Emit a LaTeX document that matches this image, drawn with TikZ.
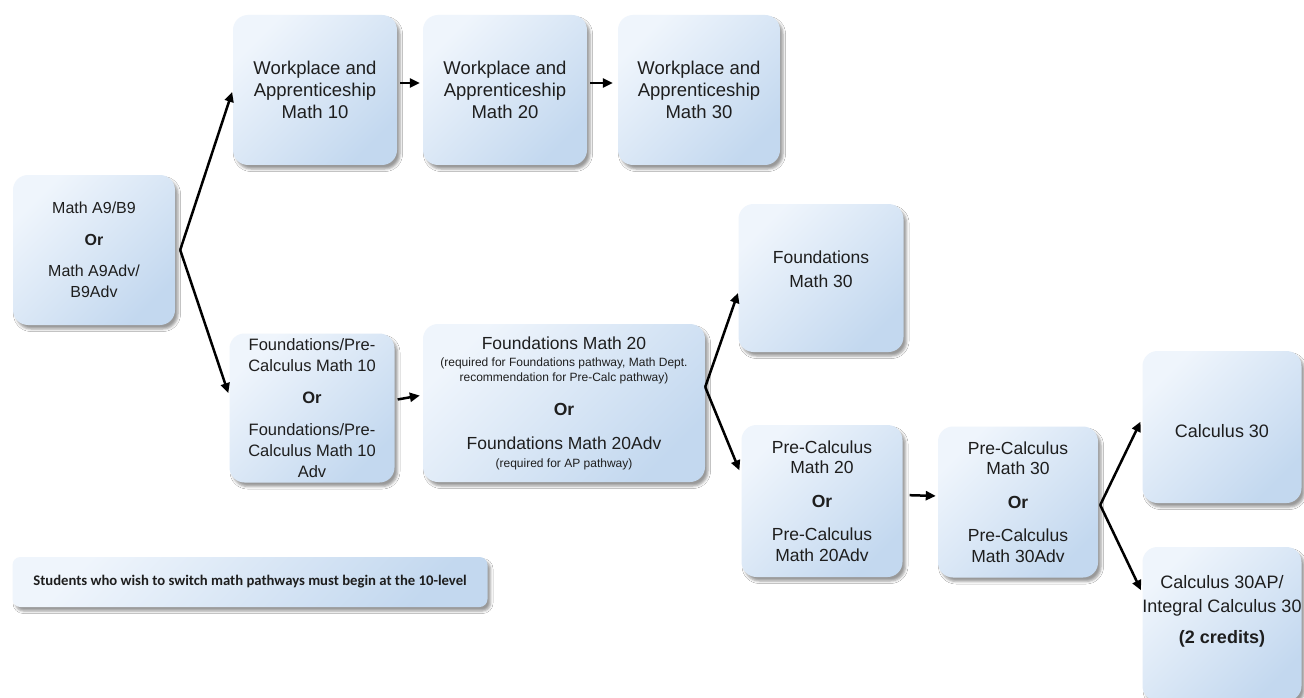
\documentclass[tikz,border=0pt]{standalone}
\usepackage{fontspec}
\setmainfont{Liberation Sans}
\newfontfamily\notefont{Carlito}
\usetikzlibrary{arrows.meta,shadows.blur,calc}
\definecolor{bxlight}{HTML}{EFF5FC}
\definecolor{bxdark}{HTML}{C3D8EF}
\definecolor{txt}{HTML}{1E1E1E}
\newcommand{\fsz}[2]{\fontsize{#1}{#2}\selectfont}
\newcommand{\fmfont}{\fontsize{17.5}{15}\selectfont\lineskiplimit=-50pt\relax}
\begin{document}
\begin{tikzpicture}[x=1pt,y=-1pt,
  cbox/.style={rounded corners=15pt, top color=bxlight, bottom color=bxdark, shading angle=45,
    blur shadow={shadow xshift=3pt,shadow yshift=-4pt,shadow blur radius=2.5pt,shadow opacity=40},
    inner sep=0pt, align=center, text=txt, font=\fsz{17.5}{21.5}},
  flow/.style={line width=2.5pt, -{Triangle[length=10pt,width=9pt]}}
]
\useasboundingbox (0,0) rectangle (1304,698);
\fill[white] (0,0) rectangle (1304,698);

\node[cbox, minimum width=162pt, minimum height=150pt, font=\fsz{16}{20.5}] (a9) at (94,250)
  {Math A9/B9\\[11pt]\textbf{Or}\\[11pt]Math A9Adv/\\B9Adv};
\node[cbox, minimum width=164pt, minimum height=150pt, font=\fsz{18.5}{22}] (wa10) at (315,90)
  {Workplace and\\Apprenticeship\\Math 10};
\node[cbox, minimum width=164pt, minimum height=150pt, font=\fsz{18.5}{22}] (wa20) at (505,90)
  {Workplace and\\Apprenticeship\\Math 20};
\node[cbox, minimum width=162pt, minimum height=150pt, font=\fsz{18.5}{22}] (wa30) at (699,90)
  {Workplace and\\Apprenticeship\\Math 30};
\node[cbox, minimum width=165pt, minimum height=149pt, font=\fsz{16.5}{21}] (fpc10) at (312,408)
  {Foundations/Pre-\\Calculus Math 10\\[11pt]\textbf{Or}\\[11pt]Foundations/Pre-\\Calculus Math 10\\Adv};
\node[cbox, minimum width=282pt, minimum height=158pt, font=\fmfont] (fm20) at (564,403)
  {Foundations Math 20\\[2pt]
   {\fsz{12}{15}(required for Foundations pathway, Math Dept.}\\
   {\fsz{12}{15}recommendation for Pre-Calc pathway)}\\[19pt]
   \textbf{Or}\\[19pt]
   Foundations Math 20Adv\\[3pt]
   {\fsz{12}{15}(required for AP pathway)}};
\node[cbox, minimum width=165pt, minimum height=148pt, font=\fsz{17.5}{23.5}] (fm30) at (821,278)
  {Foundations\\Math 30\\[-6pt]};
\node[cbox, minimum width=161pt, minimum height=152pt, font=\fsz{17.5}{20.5}] (pc20) at (822,501)
  {Pre-Calculus\\Math 20\\[13pt]\textbf{Or}\\[13pt]Pre-Calculus\\Math 20Adv};
\node[cbox, minimum width=160pt, minimum height=151pt, font=\fsz{17.5}{20.5}] (pc30) at (1018,502)
  {Pre-Calculus\\Math 30\\[13pt]\textbf{Or}\\[13pt]Pre-Calculus\\Math 30Adv};
\node[cbox, minimum width=159pt, minimum height=152pt, font=\fsz{18}{22}, text height=22pt] (calc30) at (1222,427)
  {Calculus 30};
\node[cbox, minimum width=159pt, minimum height=154pt] (calcap) at (1222,624) {};
\node[inner sep=0pt, align=center, text=txt, font=\fsz{18}{24.5}] (calcapt) at (1222,611)
  {Calculus 30AP/\\Integral Calculus 30\\[6pt]\textbf{(2 credits)}};
\node[cbox, rounded corners=8pt, minimum width=475pt, minimum height=50pt, font=\notefont\bfseries\fsz{14.7}{17}] (note) at (250,582)
  {Students who wish to switch math pathways must begin at the 10-level};

% connectors
\coordinate (fa) at ($(a9.east)+(5,0)$);
\draw[flow, shorten >=2pt] (fa) -- (wa10.west);
\draw[flow, shorten >=3pt] (fa) -- ([yshift=12pt]fpc10.west);
\draw[flow, shorten <=3pt, shorten >=3pt] ([yshift=7pt]wa10.east) -- ([yshift=7pt]wa20.west);
\draw[flow, shorten <=3pt, shorten >=5pt] ([yshift=7pt]wa20.east) -- ([yshift=7pt]wa30.west);
\draw[flow, shorten <=3pt, shorten >=3pt] ([yshift=8pt]fpc10.east) -- ([yshift=8pt]fm20.west);
\coordinate (fb) at ([yshift=16pt]fm20.east);
\draw[flow, shorten >=1pt] (fb) -- ([yshift=-14pt]fm30.west);
\draw[flow, shorten >=5pt] (fb) -- ([yshift=26pt]pc20.west);
\draw[flow, shorten <=7pt, shorten >=2pt] ([yshift=6pt]pc20.east) -- ([yshift=6pt]pc30.west);
\coordinate (fc) at ([xshift=2pt,yshift=-3pt]pc30.east);
\draw[flow, shorten >=4pt] (fc) -- ([yshift=9pt]calc30.west);
\draw[flow, shorten >=3pt] (fc) -- ([yshift=31pt]calcap.west);
\end{tikzpicture}
\end{document}
